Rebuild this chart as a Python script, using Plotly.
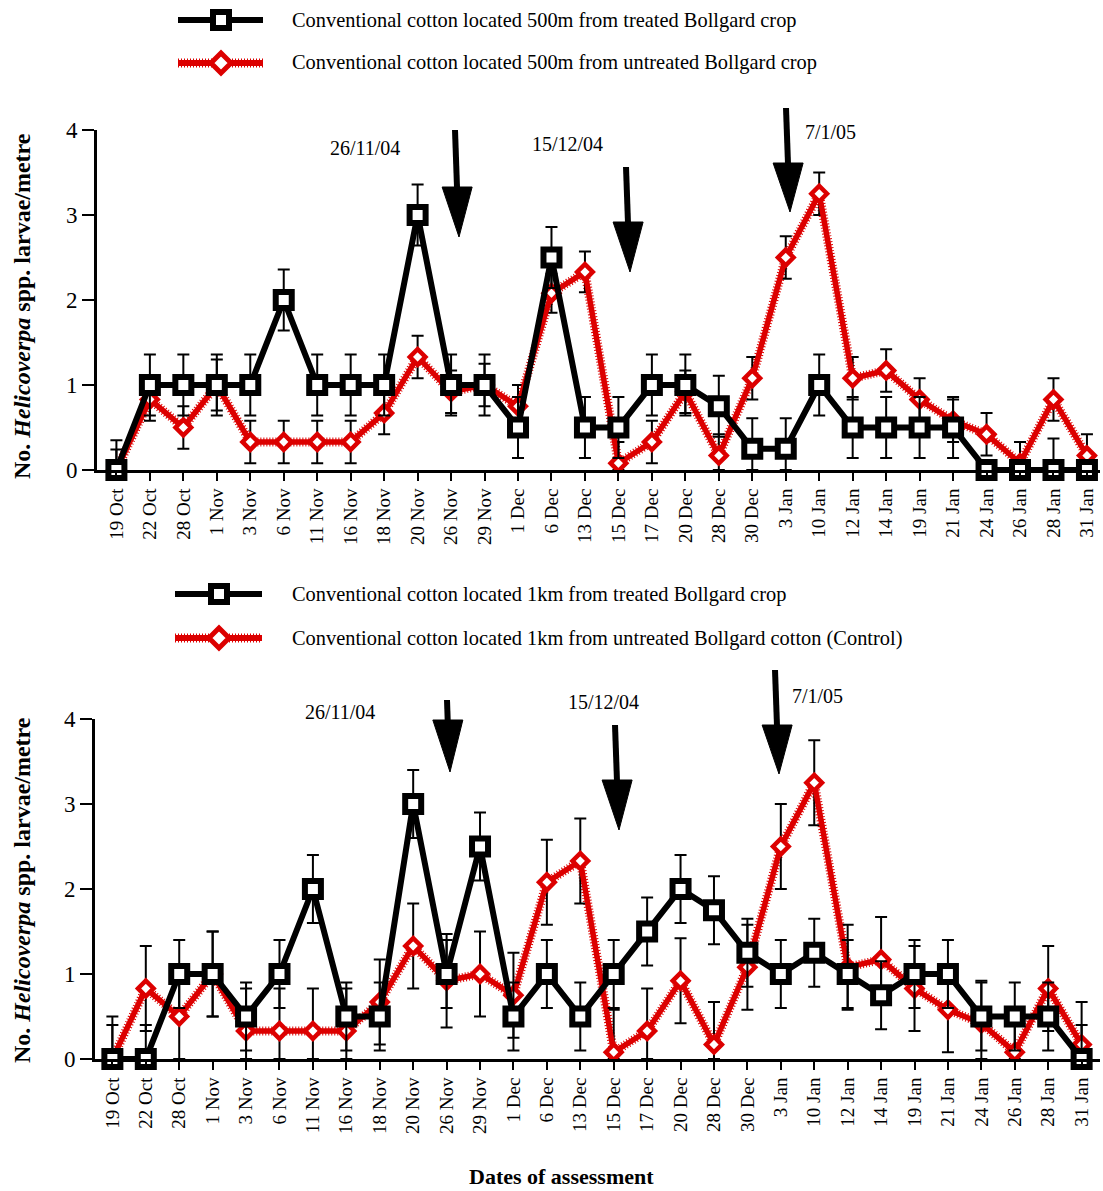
import plotly.graph_objects as go

# Assessment dates (shared by both panels)
dates = ["19 Oct", "22 Oct", "28 Oct", "1 Nov", "3 Nov", "6 Nov", "11 Nov", "16 Nov",
         "18 Nov", "20 Nov", "26 Nov", "29 Nov", "1 Dec", "6 Dec", "13 Dec", "15 Dec",
         "17 Dec", "20 Dec", "28 Dec", "30 Dec", "3 Jan", "10 Jan", "12 Jan", "14 Jan",
         "19 Jan", "21 Jan", "24 Jan", "26 Jan", "28 Jan", "31 Jan"]

# Panel 1: 500 m from Bollgard crop
treated_500 = [0, 1, 1, 1, 1, 2, 1, 1, 1, 3, 1, 1, 0.5, 2.5, 0.5, 0.5, 1, 1, 0.75, 0.25,
               0.25, 1, 0.5, 0.5, 0.5, 0.5, 0, 0, 0, 0]
treated_500_se = [0.35, 0.36, 0.36, 0.36, 0.36, 0.36, 0.36, 0.36, 0.36, 0.36, 0.36, 0.36,
                  0.36, 0.36, 0.36, 0.36, 0.36, 0.36, 0.36, 0.36, 0.36, 0.36, 0.36, 0.36,
                  0.36, 0.36, 0, 0, 0.37, 0]
untreated_500 = [0, 0.83, 0.5, 1.0, 0.33, 0.33, 0.33, 0.33, 0.67, 1.33, 0.92, 1.0, 0.75,
                 2.08, 2.33, 0.08, 0.33, 0.92, 0.17, 1.08, 2.5, 3.25, 1.08, 1.17, 0.83,
                 0.58, 0.42, 0.08, 0.83, 0.17]
untreated_500_se = [0.24, 0.25, 0.25, 0.3, 0.25, 0.25, 0.25, 0.25, 0.25, 0.25, 0.25, 0.25,
                    0.25, 0.23, 0.24, 0.25, 0.25, 0.25, 0.25, 0.25, 0.25, 0.25, 0.25, 0.25,
                    0.25, 0.25, 0.25, 0.25, 0.25, 0.25]

# Panel 2: 1 km from Bollgard crop
treated_1km = [0, 0, 1, 1, 0.5, 1, 2, 0.5, 0.5, 3, 1, 2.5, 0.5, 1, 0.5, 1, 1.5, 2, 1.75,
               1.25, 1, 1.25, 1, 0.75, 1, 1, 0.5, 0.5, 0.5, 0]
treated_1km_se = [0.5, 0.4, 0.4, 0.5, 0.4, 0.4, 0.4, 0.4, 0.4, 0.4, 0.4, 0.4, 0.4, 0.4,
                  0.4, 0.4, 0.4, 0.4, 0.4, 0.4, 0.4, 0.4, 0.4, 0.4, 0.4, 0.4, 0.4, 0.4,
                  0.4, 0.4]
untreated_1km = [0, 0.83, 0.5, 1.0, 0.33, 0.33, 0.33, 0.33, 0.67, 1.33, 0.92, 1.0, 0.75,
                 2.08, 2.33, 0.08, 0.33, 0.92, 0.17, 1.08, 2.5, 3.25, 1.08, 1.17, 0.83,
                 0.58, 0.42, 0.08, 0.83, 0.17]
untreated_1km_se = [0.4, 0.5, 0.5, 0.5, 0.5, 0.5, 0.5, 0.5, 0.5, 0.5, 0.55, 0.5, 0.5, 0.5,
                    0.5, 0.5, 0.5, 0.5, 0.5, 0.5, 0.5, 0.5, 0.5, 0.5, 0.5, 0.5, 0.5, 0.5,
                    0.5, 0.5]

legend_500 = ["Conventional cotton located 500m from treated Bollgard crop",
              "Conventional cotton located 500m from untreated Bollgard crop"]
legend_1km = ["Conventional cotton located 1km from treated Bollgard crop",
              "Conventional cotton located 1km from untreated Bollgard cotton (Control)"]
spray_dates = ["26/11/04", "15/12/04", "7/1/05"]

W, H = 1103, 1191
SERIF = "Liberation Serif, Times New Roman, serif"
RED = "#DC0000"
BLACK = "#000000"


def px(x):
    return x / W


def py(y):
    return 1 - y / H


fig = go.Figure()


def add_panel(xa, ya, black, black_se, red, red_se):
    lower_b = [min(e, v) for e, v in zip(black_se, black)]
    lower_r = [min(e, v) for e, v in zip(red_se, red)]
    # textured edge of the red line
    fig.add_trace(go.Scatter(
        x=dates, y=red, xaxis=xa, yaxis=ya, mode="lines", showlegend=False,
        hoverinfo="skip", cliponaxis=False,
        line=dict(color=RED, width=9, dash="1px,2px")))
    fig.add_trace(go.Scatter(
        x=dates, y=red, xaxis=xa, yaxis=ya, mode="lines+markers", showlegend=False,
        cliponaxis=False,
        line=dict(color=RED, width=5.5),
        marker=dict(symbol="diamond", size=12, color="white",
                    line=dict(color=RED, width=4.5)),
        error_y=dict(type="data", array=red_se, arrayminus=lower_r, symmetric=False,
                     color=BLACK, thickness=2, width=6)))
    fig.add_trace(go.Scatter(
        x=dates, y=black, xaxis=xa, yaxis=ya, mode="lines+markers", showlegend=False,
        cliponaxis=False,
        line=dict(color=BLACK, width=6),
        marker=dict(symbol="square", size=16, color="white",
                    line=dict(color=BLACK, width=6)),
        error_y=dict(type="data", array=black_se, arrayminus=lower_b, symmetric=False,
                     color=BLACK, thickness=2, width=6)))


add_panel("x", "y", treated_500, treated_500_se, untreated_500, untreated_500_se)
add_panel("x2", "y2", treated_1km, treated_1km_se, untreated_1km, untreated_1km_se)

xcommon = dict(type="category", categoryorder="array", categoryarray=dates,
               tickangle=-90, ticks="outside", ticklen=8, tickwidth=2, tickcolor=BLACK,
               showline=True, linewidth=3, linecolor=BLACK, showgrid=False,
               zeroline=False, tickfont=dict(family=SERIF, size=19, color=BLACK),
               fixedrange=True)
ycommon = dict(range=[0, 4], dtick=1, ticks="outside", ticklen=12, tickwidth=2,
               tickcolor=BLACK, showline=True, linewidth=3, linecolor=BLACK,
               showgrid=False, zeroline=False,
               tickfont=dict(family=SERIF, size=23, color=BLACK), fixedrange=True)

fig.update_layout(
    width=W, height=H, margin=dict(l=0, r=0, t=0, b=0, autoexpand=False),
    paper_bgcolor="white", plot_bgcolor="white", showlegend=False,
    font=dict(family=SERIF, color=BLACK),
    xaxis=dict(xcommon, domain=[px(97), px(1100)], range=[-0.58, 29.39], anchor="y"),
    yaxis=dict(ycommon, domain=[py(470), py(130)], anchor="x"),
    xaxis2=dict(xcommon, domain=[px(95), px(1100)], range=[-0.52, 29.55], anchor="y2"),
    yaxis2=dict(ycommon, domain=[py(1059), py(719)], anchor="x2"),
)

shapes = []
annotations = []


# Manual legends (long line samples with centred markers)
def legend_entry(y, x0, x1, xm, text, red):
    col = RED if red else BLACK
    if red:
        shapes.append(dict(type="line", xref="paper", yref="paper", x0=px(x0), x1=px(x1),
                           y0=py(y), y1=py(y), line=dict(color=col, width=9, dash="1px,2px")))
    shapes.append(dict(type="line", xref="paper", yref="paper", x0=px(x0), x1=px(x1),
                       y0=py(y), y1=py(y), line=dict(color=col, width=6)))
    if red:
        r = 10
        path = (f"M {px(xm - r)},{py(y)} L {px(xm)},{py(y - r)} L {px(xm + r)},{py(y)} "
                f"L {px(xm)},{py(y + r)} Z")
        shapes.append(dict(type="path", xref="paper", yref="paper", path=path,
                           fillcolor="white", line=dict(color=col, width=5)))
    else:
        s = 8
        shapes.append(dict(type="rect", xref="paper", yref="paper", x0=px(xm - s),
                           x1=px(xm + s), y0=py(y + s), y1=py(y - s),
                           fillcolor="white", line=dict(color=col, width=6)))
    annotations.append(dict(xref="paper", yref="paper", x=px(290), y=py(y), text=text,
                            xanchor="left", yanchor="middle", showarrow=False,
                            font=dict(family=SERIF, size=20.4, color=BLACK)))


legend_entry(20, 178, 263, 221, legend_500[0], False)
legend_entry(63, 178, 263, 221, legend_500[1], True)
legend_entry(594, 175, 262, 219, legend_1km[0], False)
legend_entry(638, 175, 262, 219, legend_1km[1], True)

# Spray arrows: (shaft top x, shaft top y, tip x, tip y, head top y)
arrows = [(455, 130, 459, 237, 187), (626, 167, 630, 272, 222), (786, 108, 790, 212, 163),
          (447, 700, 450, 772, 720), (615, 725, 619, 830, 780), (775, 670, 779, 774, 725)]
for (xt, yt, xe, ye, yh) in arrows:
    xh = xt + (xe - xt) * (yh - yt) / (ye - yt)
    shapes.append(dict(type="line", xref="paper", yref="paper", x0=px(xt), y0=py(yt),
                       x1=px(xh), y1=py(yh + 4), line=dict(color=BLACK, width=6)))
    path = f"M {px(xh - 15)},{py(yh)} L {px(xh + 15)},{py(yh)} L {px(xe)},{py(ye)} Z"
    shapes.append(dict(type="path", xref="paper", yref="paper", path=path,
                       fillcolor=BLACK, line=dict(color=BLACK, width=1)))

label_pos = [(365, 148), (567, 144), (830, 132), (340, 712), (603, 702), (817, 696)]
for i, (lx, ly) in enumerate(label_pos):
    annotations.append(dict(xref="paper", yref="paper", x=px(lx), y=py(ly),
                            text=spray_dates[i % 3], showarrow=False, xanchor="center",
                            yanchor="middle", font=dict(family=SERIF, size=20, color=BLACK)))

# Axis titles
ytitle = "<b>No. <i>Helicoverpa</i> spp. larvae/metre</b>"
for cy in (306, 890):
    annotations.append(dict(xref="paper", yref="paper", x=px(22), y=py(cy), text=ytitle,
                            textangle=-90, showarrow=False, xanchor="center",
                            yanchor="middle", font=dict(family=SERIF, size=24, color=BLACK)))
annotations.append(dict(xref="paper", yref="paper", x=px(561), y=py(1190),
                        text="<b>Dates of assessment</b>", showarrow=False,
                        xanchor="center", yanchor="bottom", borderpad=0,
                        font=dict(family=SERIF, size=22, color=BLACK)))

fig.update_layout(shapes=shapes, annotations=annotations)
fig.write_html("out.html")
